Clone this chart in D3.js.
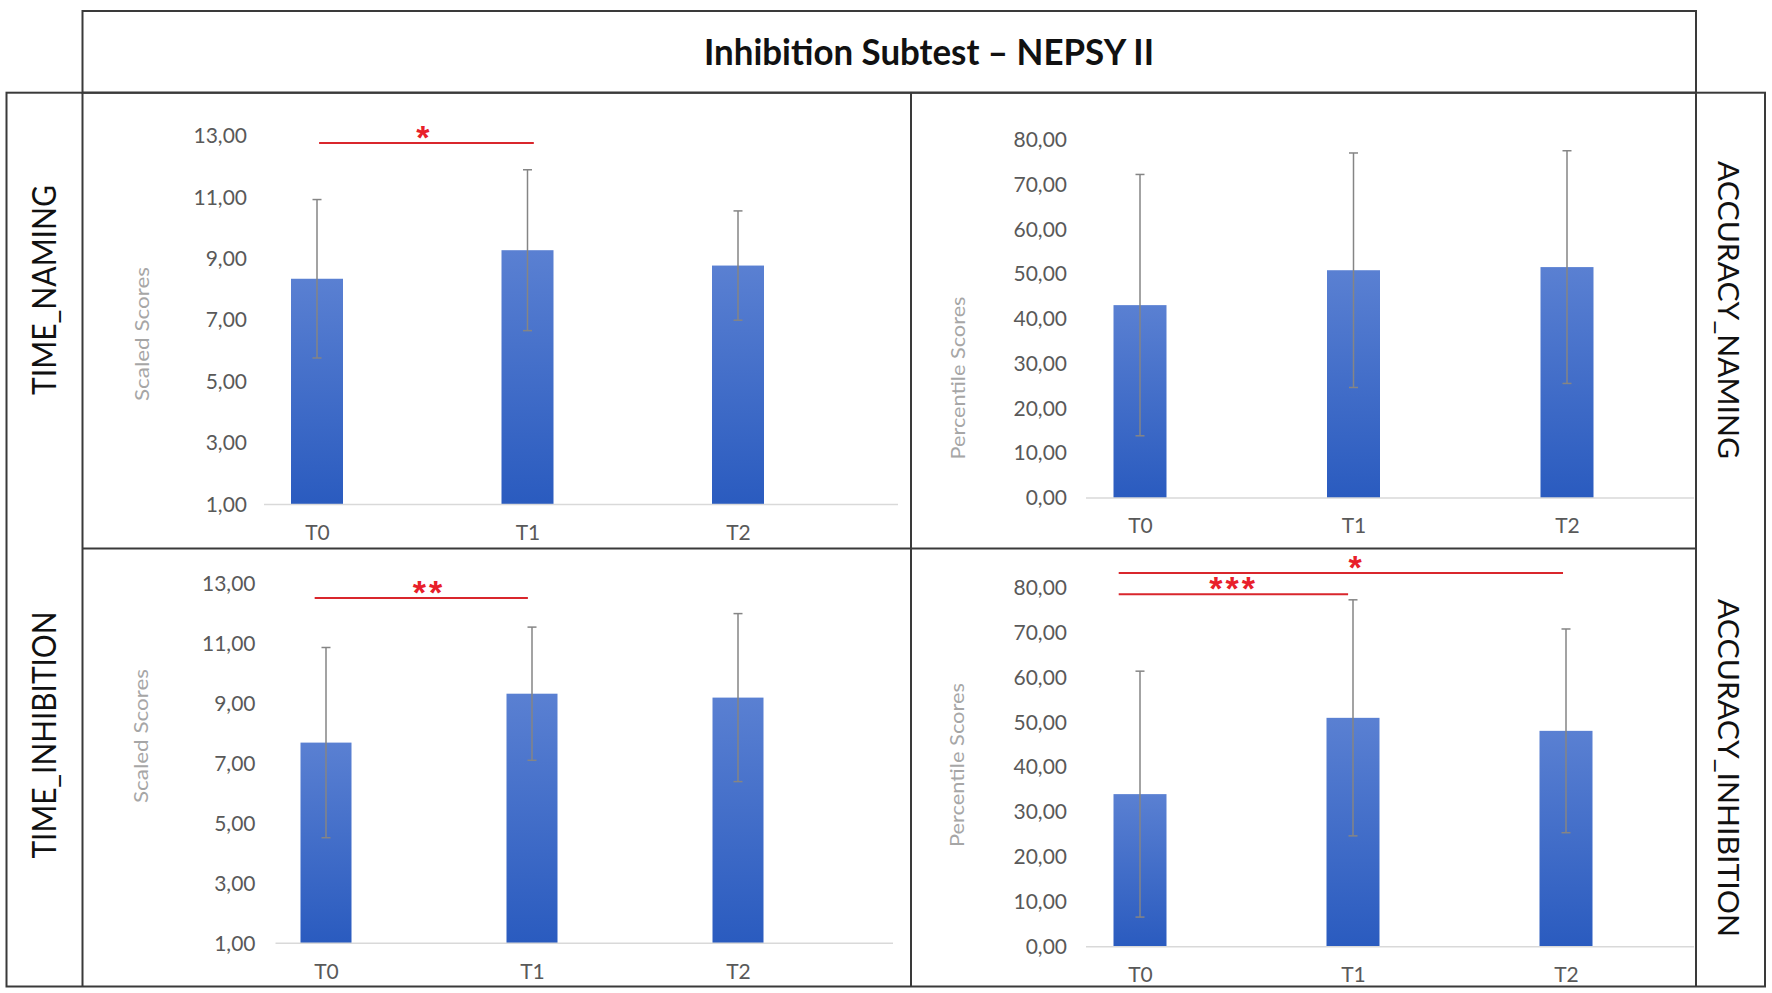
<!DOCTYPE html>
<html>
<head>
<meta charset="utf-8">
<script src="https://cdn.jsdelivr.net/npm/d3@7"></script>
<style>
    body { margin: 0; background: #fff; }
    text { font-family: Lato, 'Noto Sans', sans-serif; }
</style>
</head>
<body>
<div id="chart"></div>
<script>
const width = 1772
const height = 993

const times = ['T0', 'T1', 'T2']
const scaledTicks = [1, 3, 5, 7, 9, 11, 13]
const percentileTicks = [0, 10, 20, 30, 40, 50, 60, 70, 80]

const timeNamingMean = [8.35, 9.28, 8.78]
const timeNamingSd = [2.58, 2.62, 1.78]
const accuracyNamingMean = [43.1, 50.9, 51.6]
const accuracyNamingSd = [29.2, 26.2, 26.0]
const timeInhibitionMean = [7.69, 9.32, 9.19]
const timeInhibitionSd = [3.17, 2.22, 2.80]
const accuracyInhibitionMean = [34.0, 51.0, 48.1]
const accuracyInhibitionSd = [27.4, 26.3, 22.7]

// significance bars: from / to / at on the category index, y in score units
const timeNamingSig = [{ from: 0.01, to: 1.03, at: 0.51, y: 12.77, label: '*' }]
const timeInhibitionSig = [{ from: -0.055, to: 0.98, at: 0.5, y: 12.51, label: '**' }]
const accuracyNamingSig = []
const accuracyInhibitionSig = [
    { from: -0.1, to: 1.986, at: 1.017, y: 83.3, label: '*' },
    { from: -0.1, to: 0.977, at: 0.44, y: 78.55, label: '***' }
]

const fmt = v => d3.format('.2f')(v).replace('.', ',')

const panels = [
    {
        mean: timeNamingMean, sd: timeNamingSd, sig: timeNamingSig, ticks: scaledTicks, domain: [1, 13],
        yRange: [504.4, 136], xRange: [317, 738], base: [264, 898], tickPad: 17,
        title: 'Scaled Scores', titleX: 141, titleY: 334, titleLen: 134, labelY: 531, barWidth: 52
    },
    {
        mean: accuracyNamingMean, sd: accuracyNamingSd, sig: accuracyNamingSig, ticks: percentileTicks, domain: [0, 80],
        yRange: [498, 140], xRange: [1140, 1567], base: [1086, 1694], tickPad: 19,
        title: 'Percentile Scores', titleX: 957, titleY: 378, titleLen: 163, labelY: 524, barWidth: 53
    },
    {
        mean: timeInhibitionMean, sd: timeInhibitionSd, sig: timeInhibitionSig, ticks: scaledTicks, domain: [1, 13],
        yRange: [943.3, 583.3], xRange: [326, 738], base: [275.5, 893], tickPad: 20,
        title: 'Scaled Scores', titleX: 140, titleY: 736, titleLen: 134, labelY: 970, barWidth: 51
    },
    {
        mean: accuracyInhibitionMean, sd: accuracyInhibitionSd, sig: accuracyInhibitionSig, ticks: percentileTicks, domain: [0, 80],
        yRange: [946.7, 587.7], xRange: [1140, 1566], base: [1086, 1694], tickPad: 19,
        title: 'Percentile Scores', titleX: 956, titleY: 765, titleLen: 164, labelY: 973, barWidth: 53
    }
]

const rowLabels = [
    { text: 'TIME_NAMING', x: 56, y: 290, angle: -90, size: 32, length: 210 },
    { text: 'TIME_INHIBITION', x: 56, y: 735, angle: -90, size: 32, length: 247 },
    { text: 'ACCURACY_NAMING', x: 1718, y: 310, angle: 90, size: 29, length: 298 },
    { text: 'ACCURACY_INHIBITION', x: 1718, y: 768, angle: 90, size: 29, length: 338 }
]

const svg = d3.select('#chart')
    .append('svg')
    .attr('width', width)
    .attr('height', height)
    .style('background', '#fff')

const grad = svg.append('defs')
    .append('linearGradient')
    .attr('id', 'bar-grad')
    .attr('x1', 0).attr('y1', 0)
    .attr('x2', 0).attr('y2', 1)
grad.append('stop').attr('offset', '0%').attr('stop-color', '#5a80d2')
grad.append('stop').attr('offset', '100%').attr('stop-color', '#2a5bbf')

// frame of the table
const border = '#3a3a3a'
const frame = svg.append('g')
    .attr('stroke', border)
    .attr('stroke-width', 2)
    .attr('fill', 'none')
frame.append('rect').attr('x', 82.5).attr('y', 11).attr('width', 1696 - 82.5).attr('height', 92.7 - 11)
frame.append('rect').attr('x', 6.5).attr('y', 92.7).attr('width', 1765 - 6.5).attr('height', 986.5 - 92.7)
frame.append('line').attr('x1', 82.5).attr('x2', 82.5).attr('y1', 92.7).attr('y2', 986.5)
frame.append('line').attr('x1', 911).attr('x2', 911).attr('y1', 92.7).attr('y2', 986.5)
frame.append('line').attr('x1', 1696).attr('x2', 1696).attr('y1', 92.7).attr('y2', 986.5)
frame.append('line').attr('x1', 82.5).attr('x2', 1696).attr('y1', 548.5).attr('y2', 548.5)

svg.append('text')
    .attr('x', 929)
    .attr('y', 65)
    .attr('text-anchor', 'middle')
    .attr('textLength', 450)
    .attr('lengthAdjust', 'spacingAndGlyphs')
    .style('font-size', '36px')
    .style('font-weight', 700)
    .attr('fill', '#111')
    .text('Inhibition Subtest – NEPSY II')

svg.append('g')
    .selectAll('text')
    .data(rowLabels)
    .join('text')
    .attr('transform', d => `translate(${d.x},${d.y}) rotate(${d.angle})`)
    .attr('text-anchor', 'middle')
    .attr('textLength', d => d.length)
    .attr('lengthAdjust', 'spacingAndGlyphs')
    .style('font-size', d => `${d.size}px`)
    .attr('fill', '#111')
    .text(d => d.text)

const drawPanel = p => {
    const g = svg.append('g')
    const y = d3.scaleLinear().domain(p.domain).range(p.yRange)
    const x = d3.scalePoint().domain(times).range(p.xRange)
    const xi = d3.scaleLinear().domain([0, 2]).range(p.xRange)
    const rows = times.map((t, i) => ({ t, mean: p.mean[i], sd: p.sd[i] }))

    // value axis
    g.append('g')
        .attr('transform', `translate(${p.base[0]},0)`)
        .call(d3.axisLeft(y).tickValues(p.ticks).tickSize(0).tickPadding(p.tickPad).tickFormat(fmt))
        .call(a => a.select('.domain').remove())
        .selectAll('text')
        .style('font-family', 'Lato, sans-serif')
        .style('font-size', '21px')
        .attr('fill', '#595959')

    g.append('text')
        .attr('transform', `translate(${p.titleX},${p.titleY}) rotate(-90)`)
        .attr('text-anchor', 'middle')
        .attr('dominant-baseline', 'central')
        .attr('textLength', p.titleLen)
        .attr('lengthAdjust', 'spacingAndGlyphs')
        .style('font-size', '19px')
        .attr('fill', '#a6a6a6')
        .text(p.title)

    // bars
    g.append('g')
        .selectAll('rect')
        .data(rows)
        .join('rect')
        .attr('x', d => x(d.t) - p.barWidth / 2)
        .attr('width', p.barWidth)
        .attr('y', d => y(d.mean))
        .attr('height', d => y(p.domain[0]) - y(d.mean))
        .attr('fill', 'url(#bar-grad)')

    // category axis
    g.append('line')
        .attr('x1', p.base[0]).attr('x2', p.base[1])
        .attr('y1', y(p.domain[0])).attr('y2', y(p.domain[0]))
        .attr('stroke', '#d9d9d9')
        .attr('stroke-width', 1.5)
    g.append('g')
        .attr('transform', `translate(0,${p.labelY})`)
        .call(d3.axisBottom(x).tickSize(0).tickPadding(0))
        .call(a => a.select('.domain').remove())
        .selectAll('text')
        .attr('y', 0)
        .attr('dy', null)
        .attr('dominant-baseline', 'central')
        .style('font-family', 'Lato, sans-serif')
        .style('font-size', '21px')
        .attr('fill', '#595959')

    // error bars
    const err = g.append('g')
        .attr('stroke', '#858585')
        .attr('stroke-width', 1.5)
    err.selectAll('.stem')
        .data(rows)
        .join('line')
        .attr('class', 'stem')
        .attr('x1', d => x(d.t)).attr('x2', d => x(d.t))
        .attr('y1', d => y(d.mean - d.sd)).attr('y2', d => y(d.mean + d.sd))
    err.selectAll('.cap')
        .data(rows.flatMap(d => [{ t: d.t, v: d.mean + d.sd }, { t: d.t, v: d.mean - d.sd }]))
        .join('line')
        .attr('class', 'cap')
        .attr('x1', d => x(d.t) - 4.5).attr('x2', d => x(d.t) + 4.5)
        .attr('y1', d => y(d.v)).attr('y2', d => y(d.v))

    // significance
    const sig = g.append('g')
    sig.selectAll('line')
        .data(p.sig)
        .join('line')
        .attr('x1', d => xi(d.from)).attr('x2', d => xi(d.to))
        .attr('y1', d => y(d.y)).attr('y2', d => y(d.y))
        .attr('stroke', '#d9262c')
        .attr('stroke-width', 2)
    sig.selectAll('text')
        .data(p.sig)
        .join('text')
        .attr('x', d => xi(d.at))
        .attr('y', d => y(d.y) + 6)
        .attr('text-anchor', 'middle')
        .style('font-family', "'Liberation Sans', Arial, sans-serif")
        .style('font-size', '34px')
        .style('font-weight', 700)
        .style('letter-spacing', '3px')
        .attr('fill', '#e8202a')
        .text(d => d.label)
}

panels.forEach(drawPanel)
</script>
</body>
</html>
